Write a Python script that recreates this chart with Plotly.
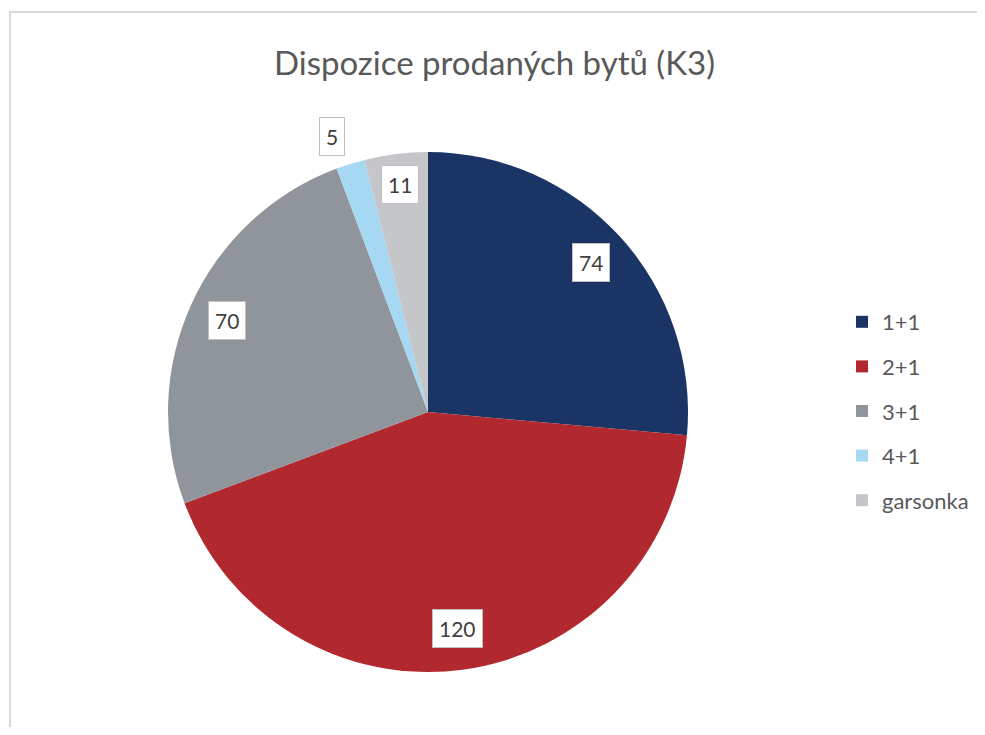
import math
import plotly.graph_objects as go

# ---- data ----
categories = ["1+1", "2+1", "3+1", "4+1", "garsonka"]
values = [74, 120, 70, 5, 11]
title_text = "Dispozice prodaných bytů (K3)"

# ---- styles ----
colors = ["#1B3466", "#B1282E", "#90959B", "#A7D8F3", "#C5C6C9"]
label_radius = [0.85, 0.84, 0.85, 1.12, 0.88]
label_angle_shift = [0, 0, 0, -1.8, 0]  # degrees
FONT = "Lato"

OFF = 8  # page body margin
W, H = 969, 719
cx, cy, R = 428 - OFF, 412 - OFF, 260  # pie placement in figure pixels

fig = go.Figure()
fig.add_trace(go.Pie(
    labels=categories, values=values, sort=False, direction="clockwise",
    rotation=0, marker=dict(colors=colors, line=dict(width=0)),
    textinfo="none", showlegend=False, hoverinfo="label+value",
    domain=dict(x=[(cx - R) / W, (cx + R) / W], y=[1 - (cy + R) / H, 1 - (cy - R) / H]),
))

# legend entries via dummy traces
for c, col in zip(categories, colors):
    fig.add_trace(go.Scatter(
        x=[None], y=[None], mode="markers", name=c, legendgroup=c,
        marker=dict(symbol="square", size=12, color=col),
    ))

# data labels computed from the values
total = sum(values)
cum = 0
for v, rf, da in zip(values, label_radius, label_angle_shift):
    mid = (cum + v / 2) / total * 2 * math.pi + math.radians(da)
    cum += v
    px = cx + rf * R * math.sin(mid)
    py = cy - rf * R * math.cos(mid)
    fig.add_annotation(
        x=px / W, y=1 - py / H, xref="paper", yref="paper", text=str(v),
        xanchor="center", yanchor="middle",
        showarrow=False, font=dict(family=FONT, size=21, color="#404040"),
        bgcolor="white", bordercolor="#BFBFBF", borderwidth=1, borderpad=6,
    )

fig.add_annotation(
    x=(494 - OFF) / W, y=1 - (62 - OFF) / H, xref="paper", yref="paper", text=title_text,
    showarrow=False, font=dict(family=FONT, size=33, color="#595959"),
    xanchor="center", yanchor="middle",
)

# outer chart border (top and left visible)
fig.add_shape(type="rect", xref="paper", yref="paper",
              x0=(10 - OFF) / W, x1=1.05, y0=-0.05, y1=1 - (12 - OFF) / H,
              line=dict(color="#D9D9D9", width=2), fillcolor="rgba(0,0,0,0)")

fig.update_layout(
    width=W, height=H, margin=dict(l=0, r=0, t=0, b=0),
    paper_bgcolor="white", plot_bgcolor="white",
    xaxis=dict(visible=False), yaxis=dict(visible=False),
    legend=dict(x=(842 - OFF) / W, y=1 - (301 - OFF) / H, xanchor="left", yanchor="top",
                font=dict(family=FONT, size=22, color="#595959"),
                tracegroupgap=13, itemsizing="constant", bgcolor="rgba(0,0,0,0)"),
    showlegend=True,
)

fig.write_html("out.html")
